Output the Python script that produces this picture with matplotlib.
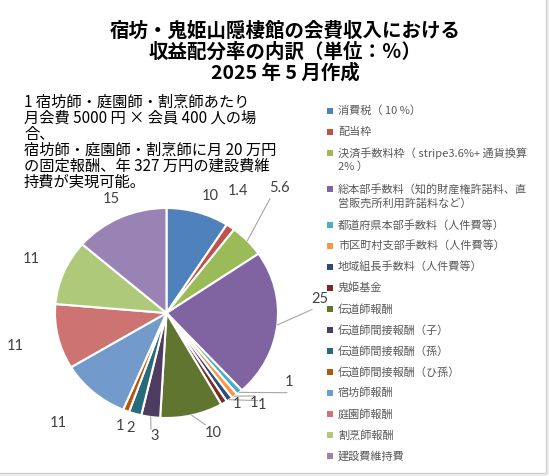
import matplotlib
matplotlib.use("Agg")
import matplotlib.pyplot as plt
import numpy as np
from matplotlib.patches import Rectangle

plt.rcParams['font.family'] = ['Noto Sans CJK JP', 'DejaVu Sans']

# データ
categories = [
    '消費税（ 10 %）',
    '配当枠',
    '決済手数料枠（ stripe3.6%+ 通貨換算\n2% ）',
    '総本部手数料（知的財産権許諾料、直\n営販売所利用許諾料など）',
    '都道府県本部手数料（人件費等）',
    '市区町村支部手数料（人件費等）',
    '地域組長手数料（人件費等）',
    '鬼姫基金',
    '伝道師報酬',
    '伝道師間接報酬（子）',
    '伝道師間接報酬（孫）',
    '伝道師間接報酬（ひ孫）',
    '宿坊師報酬',
    '庭園師報酬',
    '割烹師報酬',
    '建設費維持費',
]
values = [10, 1.4, 5.6, 25, 1, 1, 1, 1, 10, 3, 2, 1, 11, 11, 11, 15]
value_labels = ['10', '1.4', '5.6', '25', '1', '1', '1', '1',
                '10', '3', '2', '1', '11', '11', '11', '15']
colors = ['#4F81BD', '#C0504D', '#9BBB59', '#8064A2', '#4BACC6', '#F79646',
          '#2C4D75', '#772C2A', '#5F7530', '#4D3B62', '#276A7C', '#B65708',
          '#729ACA', '#CD7371', '#AFC97A', '#9983B5']

title_lines = ['宿坊・鬼姫山隠棲館の会費収入における',
               '収益配分率の内訳（単位：％）',
               '2025 年 5 月作成']
note_lines = ['1 宿坊師・庭園師・割烹師あたり',
              '月会費 5000 円 × 会員 400 人の場',
              '合、',
              '宿坊師・庭園師・割烹師に月 20 万円',
              'の固定報酬、年 327 万円の建設費維',
              '持費が実現可能。']

# ラベル配置（半径, 角度オフセット）
label_pos = [(1.18, -3), (1.33, 6), (1.56, 6), (1.38, 12), (1.28, 18),
             (1.16, 5), (1.23, 10), (1.07, 5), (1.22, 7), (1.18, 3),
             (1.14, 0), (1.15, 0), (1.43, -2), (1.39, 0), (1.32, 0), (1.19, 0)]
# 引き出し線の終点（半径, 角度オフセット）
leaders = {2: (1.43, 6), 3: (1.305, 8), 4: (1.32, 14), 5: (1.12, 7.5),
           6: (1.167, 10), 8: (1.12, 5), 9: (1.114, 1)}

W, H = 549, 476
fig = plt.figure(figsize=(W / 100, H / 100), dpi=100)
fig.patch.set_facecolor('#EEEEEE')
fig.patches.append(Rectangle((-0.01, 3 / H), 546 / W + 0.01, 1.1,
                             transform=fig.transFigure, facecolor='white',
                             edgecolor='#D0D0D0', linewidth=1, zorder=-1))

cx, cy, rx, ry = 166.5, 313, 111.5, 105
ax = fig.add_axes([(cx - rx) / W, (H - cy - ry) / H, 2 * rx / W, 2 * ry / H])
wedges, _ = ax.pie(values, colors=colors, startangle=90, counterclock=False,
                   wedgeprops=dict(edgecolor='white', linewidth=1.5))
ax.set_aspect('auto')
ax.set_xlim(-1, 1)
ax.set_ylim(-1, 1)
ax.axis('off')

for i, w in enumerate(wedges):
    mid = (w.theta1 + w.theta2) / 2
    r, off = label_pos[i]
    a = np.radians(mid + off)
    ax.text(r * np.cos(a), r * np.sin(a), value_labels[i], ha='center', va='center',
            fontsize=10.5, color='#404040', family=['Lato', 'DejaVu Sans'],
            clip_on=False)
    if i in leaders:
        lr, loff = leaders[i]
        b = np.radians(mid + loff)
        m = np.radians(mid)
        ax.plot([np.cos(m), lr * np.cos(b)], [np.sin(m), lr * np.sin(b)],
                color='#A6A6A6', linewidth=0.8, clip_on=False)

for k, line in enumerate(title_lines):
    fig.text(285 / W, 1 - (31 + 21 * k) / H, line, ha='center', va='center',
             fontsize=14, fontweight='bold', color='black')

for k, line in enumerate(note_lines):
    fig.text(24 / W, 1 - (102 + 16 * k) / H, line, ha='left', va='center',
             fontsize=11, color='black')

# 凡例（手組み）
y = 111
for name, col in zip(categories, colors):
    parts = name.split('\n')
    fig.patches.append(Rectangle((327 / W, 1 - (y + 3) / H), 6 / W, 6 / H,
                                 transform=fig.transFigure, facecolor=col,
                                 edgecolor='none'))
    for j, p in enumerate(parts):
        fig.text(338 / W, 1 - (y + 14 * j) / H, p, ha='left', va='center',
                 fontsize=8, color='#595959')
    y += 21 + 15 * (len(parts) - 1)

fig.savefig('out.png', dpi=100, facecolor=fig.get_facecolor())
